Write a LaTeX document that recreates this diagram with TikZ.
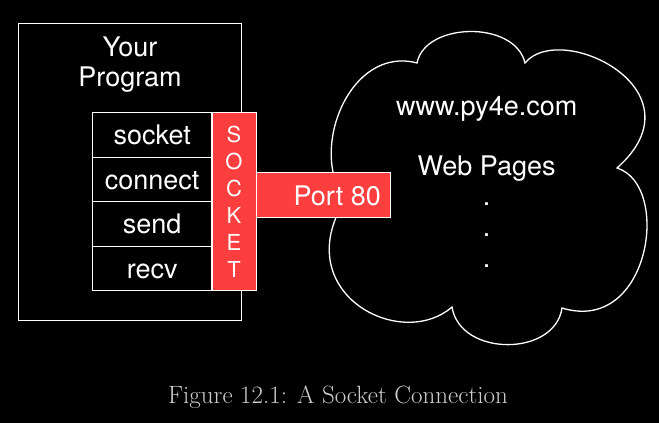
\documentclass[tikz,border=0pt]{standalone}
\usepackage{fontspec}
\newfontfamily\hv{TeX Gyre Heros}
\definecolor{sockred}{RGB}{252,62,62}
\definecolor{capgray}{RGB}{205,205,205}
\begin{document}
\begin{tikzpicture}[x=1pt,y=-1pt,
  wline/.style={draw=white,line width=1.3pt},
  lbl/.style={text=white,font=\hv\fontsize{27}{30}\selectfont,inner sep=0pt},
  row/.style={wline,lbl,minimum width=119pt,minimum height=44.5pt,text height=20pt,text depth=0pt},
  redbox/.style={draw=white,line width=1pt,fill=sockred,inner sep=0pt}]
\useasboundingbox (0,0) rectangle (659,423);
\fill[black] (0,0) rectangle (659,423);
% program box
\node[wline,minimum width=222.5pt,minimum height=297pt,inner sep=0pt] (prog) at (130,172) {};
\node[lbl,anchor=base,align=center] (title) at (130,86.7) {Your\\Program};
% stack rows
\node[row] (socket) at (152.2,134.95) {socket};
\node[row] (connect) at (152.2,179.45) {connect};
\node[row] (send) at (152.2,223.95) {send};
\node[row] (recv) at (152.2,268.45) {recv};
% cloud
\draw[white,line width=1.3pt]
  (417,63) .. controls (425,22) and (515,20) .. (525,63)
  .. controls (560,20) and (705,90) .. (617,168)
  .. controls (672,185) and (650,335) .. (562,308)
  .. controls (555,357) and (460,357) .. (452,307)
  .. controls (400,352) and (288,292) .. (345,200)
  .. controls (308,150) and (350,45) .. (417,63) -- cycle;
\node[lbl,anchor=base] (site) at (486.7,115) {www.py4e.com};
\node[lbl,anchor=base] (pages) at (486.7,175) {Web Pages};
\node[lbl,anchor=base] (d1) at (486.7,205) {.};
\node[lbl,anchor=base] (d2) at (486.7,236) {.};
\node[lbl,anchor=base] (d3) at (486.7,267) {.};
% socket bar
\node[redbox,minimum width=44pt,minimum height=178pt,align=center,text=white,
  font=\hv\fontsize{22}{27}\selectfont] (bar) at (234,201.7) {S\\O\\C\\K\\E\\T};
% port
\node[redbox,minimum width=134pt,minimum height=45pt] (port) at (323,194.5) {};
\node[lbl,anchor=base east] (porttxt) at (381,205) {Port 80};
% caption
\node[text=capgray,font=\fontsize{25}{30}\selectfont,anchor=base,inner sep=0pt] (cap) at (338,403.3) {Figure 12.1: A Socket Connection};
\end{tikzpicture}
\end{document}
